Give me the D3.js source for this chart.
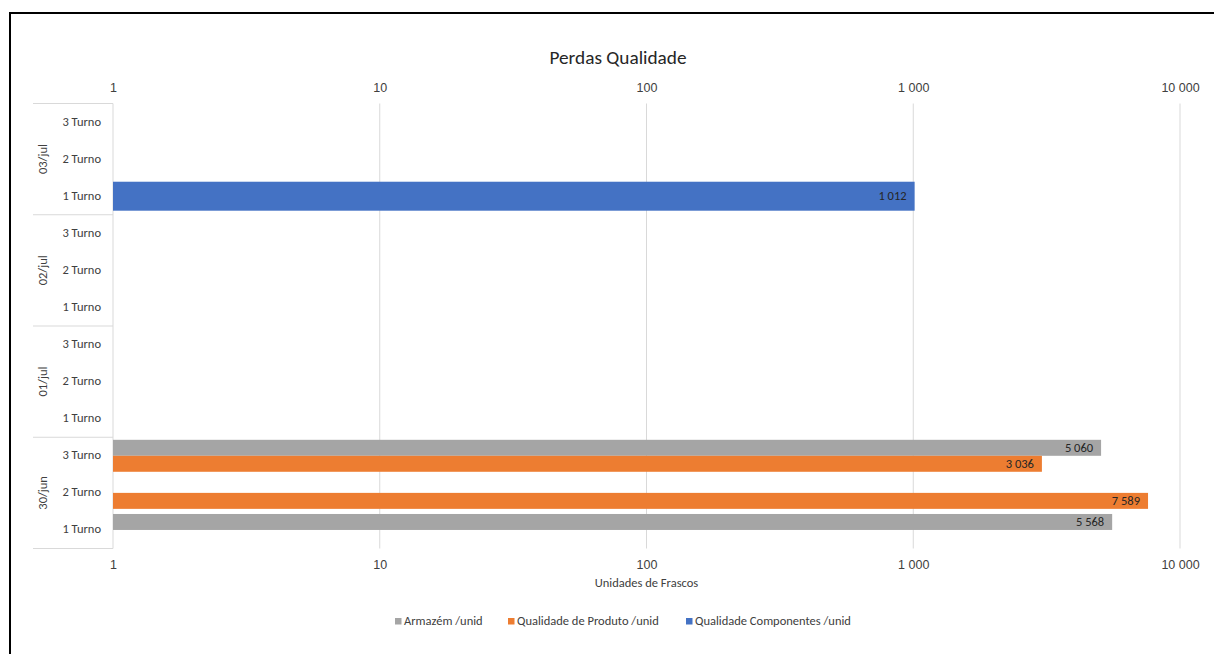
<!DOCTYPE html>
<html>
<head>
<meta charset="utf-8">
<script src="https://cdn.jsdelivr.net/npm/d3@7"></script>
<style>
  html, body { margin: 0; padding: 0; background: #fff; }
  svg { display: block; font-family: Carlito, Lato, "Open Sans", sans-serif; }
</style>
</head>
<body>
<svg id="chart" width="1214" height="654"></svg>
<script>
// Categories: dates with three shifts each (bottom-to-top order of the axis)
const dates = ["30/jun", "01/jul", "02/jul", "03/jul"];
const turnos = ["1 Turno", "2 Turno", "3 Turno"];

// Losses per shift, in the same order as dates × turnos
const armazem         = [5568, null, 5060, null, null, null, null, null, null, null, null, null];
const qualProduto     = [null, 7589, 3036, null, null, null, null, null, null, null, null, null];
const qualComponentes = [null, null, null, null, null, null, null, null, null, 1012, null, null];

const seriesNames = ["Armazém /unid", "Qualidade de Produto /unid", "Qualidade Componentes /unid"];
const seriesColors = ["#A5A5A5", "#ED7D31", "#4472C4"];
const tickValues = [1, 10, 100, 1000, 10000];

const categories = [];
dates.forEach(d => turnos.forEach(t => categories.push({ date: d, turno: t, key: d + "|" + t })));

const svg = d3.select("#chart");
const W = 1214, H = 654;
const plot = { left: 113, right: 1180, top: 103.5, bottom: 548.5 };
const FS = 12.5;      // label font size
const TY = 1.5;       // vertical nudge for centred text

const fmt = v => d3.format(",")(v).replace(/,/g, " ");

// Outer chart frame
svg.append("rect")
  .attr("x", 10).attr("y", 13)
  .attr("width", W + 20).attr("height", H + 20)
  .attr("fill", "#fff").attr("stroke", "#000").attr("stroke-width", 2);

// Scales
const x = d3.scaleLog().domain([1, 10000]).range([plot.left, plot.right]);
const y = d3.scaleBand()
  .domain(categories.map(c => c.key).reverse())
  .range([plot.top, plot.bottom])
  .padding(0);
const bw = y.bandwidth();
const sub = d3.scaleBand().domain(["a", "p"]).range([0, bw]).paddingInner(0).paddingOuter(0.16);
const single = d3.scaleBand().domain(["c"]).range([0, bw]).paddingOuter(0.14);

// Title
svg.append("text")
  .attr("x", 618).attr("y", 58 + TY)
  .attr("text-anchor", "middle").attr("dominant-baseline", "middle")
  .attr("font-size", 19.3).attr("fill", "#262626")
  .text("Perdas Qualidade");

// Vertical gridlines
svg.append("g").selectAll("line")
  .data(tickValues.slice(1))
  .join("line")
  .attr("x1", d => x(d)).attr("x2", d => x(d))
  .attr("y1", plot.top).attr("y2", plot.bottom)
  .attr("stroke", "#D9D9D9").attr("stroke-width", 1);

// Value axes (top and bottom), drawn with d3.axis and restyled
const axisTop = d3.axisTop(x).tickValues(tickValues).tickFormat(fmt).tickSize(0).tickPadding(0);
const axisBottom = d3.axisBottom(x).tickValues(tickValues).tickFormat(fmt).tickSize(0).tickPadding(0);

const gTop = svg.append("g").attr("transform", `translate(0,${plot.top})`).call(axisTop);
gTop.select(".domain").remove();
gTop.selectAll("text")
  .attr("y", 87.5 + TY - plot.top).attr("dy", null)
  .attr("dominant-baseline", "middle")
  .attr("font-size", FS).attr("fill", "#404040").attr("font-family", null);

const gBot = svg.append("g").attr("transform", `translate(0,${plot.bottom})`).call(axisBottom);
gBot.select(".domain").remove();
gBot.selectAll("text")
  .attr("y", 564.5 + TY - plot.bottom).attr("dy", null)
  .attr("dominant-baseline", "middle")
  .attr("font-size", FS).attr("fill", "#404040").attr("font-family", null);

// Axis title
svg.append("text")
  .attr("x", x(100)).attr("y", 583 + TY)
  .attr("text-anchor", "middle").attr("dominant-baseline", "middle")
  .attr("font-size", FS).attr("fill", "#404040")
  .text("Unidades de Frascos");

// Category axis line
svg.append("line")
  .attr("x1", plot.left).attr("x2", plot.left)
  .attr("y1", plot.top).attr("y2", plot.bottom)
  .attr("stroke", "#D9D9D9").attr("stroke-width", 1);

// Group separators of the two-level category axis
const groupEdges = dates.map(d => y(d + "|" + turnos[2]));
groupEdges.push(plot.bottom);
svg.append("g").selectAll("line")
  .data(groupEdges)
  .join("line")
  .attr("x1", 33).attr("x2", plot.left)
  .attr("y1", d => d).attr("y2", d => d)
  .attr("stroke", "#D9D9D9").attr("stroke-width", 1);

// Shift labels
svg.append("g").selectAll("text")
  .data(categories)
  .join("text")
  .attr("x", 101)
  .attr("y", c => y(c.key) + bw / 2 + TY - 1)
  .attr("text-anchor", "end").attr("dominant-baseline", "middle")
  .attr("font-size", FS).attr("fill", "#404040")
  .text(c => c.turno);

// Date labels, rotated
svg.append("g").selectAll("text")
  .data(dates)
  .join("text")
  .attr("transform", d => {
    const yc = (y(d + "|" + turnos[2]) + y(d + "|" + turnos[0]) + bw) / 2;
    return `translate(${43 + TY},${yc}) rotate(-90)`;
  })
  .attr("text-anchor", "middle").attr("dominant-baseline", "middle")
  .attr("font-size", FS).attr("fill", "#404040")
  .text(d => d);

// Bars
const bars = [];
categories.forEach((c, i) => {
  if (armazem[i] != null) bars.push({ key: c.key, v: armazem[i], y0: sub("a"), h: sub.bandwidth(), s: 0 });
  if (qualProduto[i] != null) bars.push({ key: c.key, v: qualProduto[i], y0: sub("p"), h: sub.bandwidth(), s: 1 });
  if (qualComponentes[i] != null) bars.push({ key: c.key, v: qualComponentes[i], y0: single("c"), h: single.bandwidth(), s: 2 });
});

const gBars = svg.append("g");
gBars.selectAll("rect")
  .data(bars)
  .join("rect")
  .attr("x", x(1))
  .attr("y", d => y(d.key) + d.y0)
  .attr("width", d => x(d.v) - x(1))
  .attr("height", d => d.h)
  .attr("fill", d => seriesColors[d.s]);

// Data labels inside bar ends
gBars.selectAll("text")
  .data(bars)
  .join("text")
  .attr("x", d => x(d.v) - 8)
  .attr("y", d => y(d.key) + d.y0 + d.h / 2 + TY - 0.5)
  .attr("text-anchor", "end").attr("dominant-baseline", "middle")
  .attr("font-size", FS).attr("fill", "#262626")
  .text(d => fmt(d.v));

// Legend
const legendX = [395, 508, 686];
const gLeg = svg.append("g");
seriesNames.forEach((name, i) => {
  gLeg.append("rect")
    .attr("x", legendX[i]).attr("y", 618)
    .attr("width", 6.5).attr("height", 6.5)
    .attr("fill", seriesColors[i]);
  gLeg.append("text")
    .attr("x", legendX[i] + 9).attr("y", 621 + TY)
    .attr("dominant-baseline", "middle")
    .attr("font-size", FS).attr("fill", "#404040")
    .text(name);
});
</script>
</body>
</html>
